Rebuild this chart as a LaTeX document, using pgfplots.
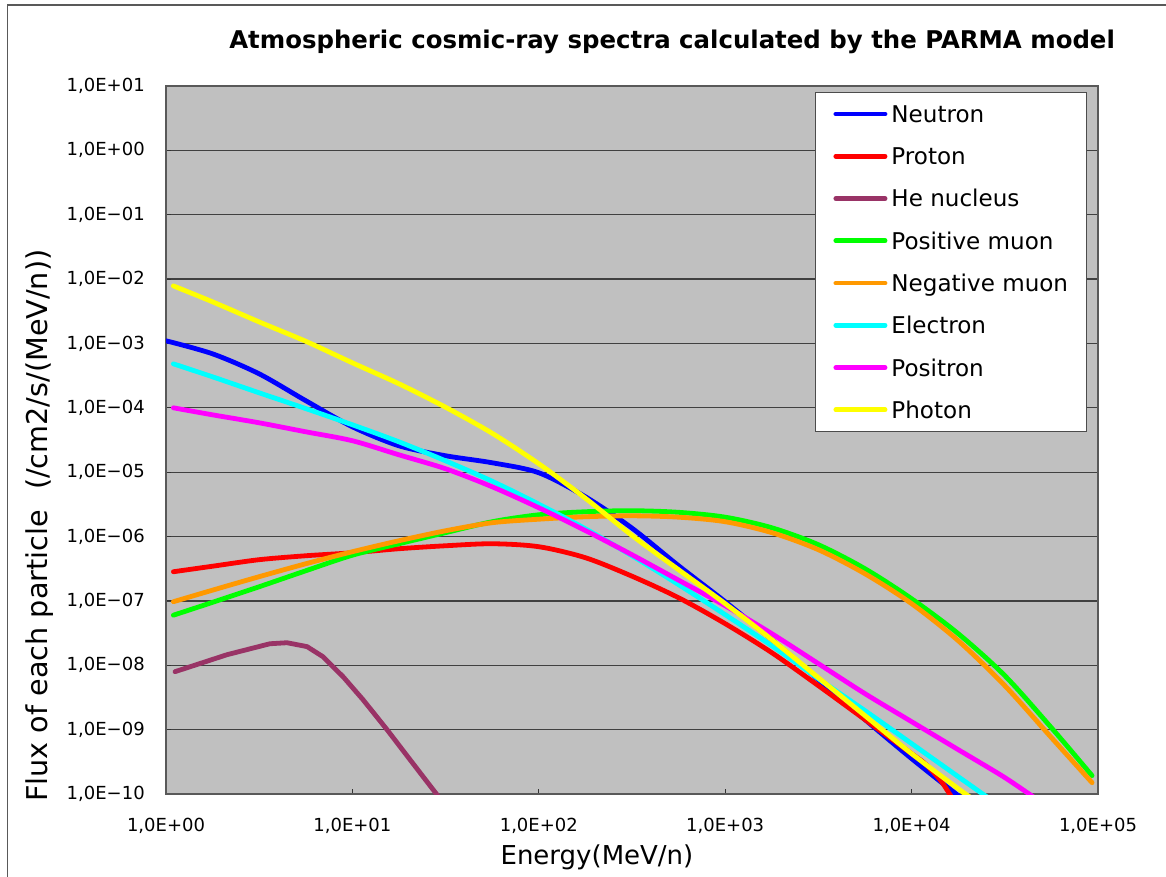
\documentclass[border=0pt]{standalone}
\usepackage{fontspec}
\setmainfont{DejaVu Sans}
\usepackage{pgfplots}
\pgfplotsset{compat=1.18}
\definecolor{bgc}{HTML}{C0C0C0}
\definecolor{cneu}{HTML}{0000FF}
\definecolor{cpro}{HTML}{FF0000}
\definecolor{henuc}{HTML}{993366}
\definecolor{orng}{HTML}{FF9900}
\definecolor{grn}{HTML}{00FF00}
\definecolor{cyn}{HTML}{00FFFF}
\definecolor{mag}{HTML}{FF00FF}
\definecolor{yel}{HTML}{FFFF00}
\begin{document}
\begin{tikzpicture}[x=0.75pt,y=0.75pt]
\useasboundingbox (0,0) rectangle (1166,877);
\fill[white] (0,0) rectangle (1166,877);
\draw[black!65, line width=1.2pt] (7.5,0) -- (7.5,872) -- (1166,872);
\begin{axis}[
  at={(124.5pt,62.25pt)}, anchor=south west,
  scale only axis, width=699pt, height=531pt,
  xmode=log, ymode=log,
  xmin=1, xmax=1e5, ymin=1e-10, ymax=10,
  xminorticks=false, yminorticks=false,
  axis background/.style={fill=bgc},
  axis line style={draw=black!65, line width=1.2pt},
  ymajorgrids, major grid style={black!75, line width=0.9pt},
  tick align=inside, tick pos=left,
  major tick length=3.75pt,
  tick style={black!80, line width=0.8pt},
  xtick={1,10,100,1000,10000,100000},
  xticklabels={{1,0E+00},{1,0E+01},{1,0E+02},{1,0E+03},{1,0E+04},{1,0E+05}},
  ytick={1e-10,1e-9,1e-8,1e-7,1e-6,1e-5,1e-4,1e-3,1e-2,1e-1,1,10},
  yticklabels={{1,0E−10},{1,0E−09},{1,0E−08},{1,0E−07},{1,0E−06},{1,0E−05},{1,0E−04},{1,0E−03},{1,0E−02},{1,0E−01},{1,0E+00},{1,0E+01}},
  yticklabel style={font=\fontsize{13.5}{16}\selectfont, anchor=east, inner sep=0pt, xshift=-15.75pt},
  xticklabel style={font=\fontsize{13.5}{16}\selectfont, anchor=base, inner sep=0pt, yshift=-28pt},
  title={Atmospheric cosmic-ray spectra calculated by the PARMA model},
  title style={at={(axis description cs:0.543,1.051)}, anchor=center, inner sep=0pt, font=\bfseries\fontsize{18.3}{22}\selectfont},
  xlabel={Energy(MeV/n)},
  xlabel style={at={(axis description cs:0.4624,-0.089)}, anchor=center, inner sep=0pt, font=\fontsize{19.5}{23}\selectfont},
  ylabel={Flux of each particle\hspace{0.7em}(/cm2/s/(MeV/n))},
  ylabel style={at={(axis description cs:-0.1352,0.379)}, anchor=center, inner sep=0pt, font=\fontsize{21.5}{25}\selectfont},
  legend style={
    at={(axis description cs:0.6964,0.9915)}, anchor=north west,
    draw=black!70, line width=0.6pt, fill=white,
    font=\fontsize{17.3}{20}\selectfont,
    inner xsep=13.5pt, inner ysep=9.9pt,
    row sep=19.1pt, column sep=3pt,
    nodes={inner sep=0pt, text height=12.6pt, text depth=0pt},
  },
  legend cell align=left,
  legend image code/.code={\draw[#1, line cap=round] (1.8pt,0pt) -- (38.7pt,0pt);},
  every axis plot/.append style={line width=3.6pt, line join=round, line cap=round},
]
\addplot[cneu, smooth] coordinates {(1,1.10e-3) (1.778,6.90e-4) (3.162,3.37e-4) (5.623,1.29e-4) (10,5.07e-5) (17.78,2.57e-5) (31.62,1.80e-5) (56.23,1.40e-5) (100,9.79e-6) (177.8,4.15e-6) (316.2,1.35e-6) (562.3,3.52e-7) (1000,9.72e-8) (1778,2.50e-8) (3162,5.97e-9) (5623,1.43e-9) (10000,3.55e-10) (17783,9.44e-11) (20560,6.84e-11)};
\addlegendentry{Neutron}
\addplot[cpro, smooth] coordinates {(1.096,2.84e-7) (1.778,3.46e-7) (3.162,4.37e-7) (5.623,5.03e-7) (10,5.60e-7) (17.78,6.47e-7) (31.62,7.19e-7) (56.23,7.73e-7) (100,6.95e-7) (177.8,4.69e-7) (316.2,2.42e-7) (562.3,1.12e-7) (1000,4.43e-8) (1778,1.57e-8) (3162,4.82e-9) (5623,1.43e-9) (10000,4.24e-10) (11800,2.96e-10) (14200,1.67e-10) (16070,9.8e-11) (17100,7.35e-11)};
\addlegendentry{Proton}
\addplot[henuc] coordinates {(1.118,7.96e-9) (2.125,1.46e-8) (3.61,2.16e-8) (4.46,2.24e-8) (5.71,1.95e-8) (6.95,1.36e-8) (8.91,6.65e-9) (11.4,2.92e-9) (15.34,1e-9) (20.37,3.42e-10) (28.4,9.8e-11) (31.4,6.6e-11)};
\addlegendentry{He nucleus}
\addplot[grn, smooth] coordinates {(1.096,6.00e-8) (1.778,9.51e-8) (3.162,1.66e-7) (5.623,2.94e-7) (10,5.13e-7) (17.78,7.73e-7) (31.62,1.15e-6) (56.23,1.70e-6) (100,2.18e-6) (177.8,2.43e-6) (316.2,2.52e-6) (562.3,2.38e-6) (1000,2.00e-6) (1778,1.37e-6) (3162,7.46e-7) (5623,3.16e-7) (10000,1.08e-7) (17783,3.10e-8) (31623,6.90e-9) (56234,1.07e-9) (92900,1.93e-10)};
\addlegendentry{Positive muon}
\addplot[orng, smooth] coordinates {(1.096,9.72e-8) (1.778,1.47e-7) (3.162,2.38e-7) (5.623,3.78e-7) (10,5.81e-7) (17.78,8.61e-7) (31.62,1.23e-6) (56.23,1.64e-6) (100,1.86e-6) (177.8,2.03e-6) (316.2,2.10e-6) (562.3,2.00e-6) (1000,1.70e-6) (1778,1.15e-6) (3162,6.24e-7) (5623,2.64e-7) (10000,9.06e-8) (17783,2.41e-8) (31623,4.82e-9) (56234,7.52e-10) (92900,1.50e-10)};
\addlegendentry{Negative muon}
\addplot[cyn, smooth] coordinates {(1.096,4.82e-4) (1.778,3.03e-4) (3.162,1.71e-4) (5.623,9.73e-5) (10,5.45e-5) (17.78,2.96e-5) (31.62,1.50e-5) (56.23,7.23e-6) (100,3.18e-6) (177.8,1.32e-6) (316.2,5.03e-7) (562.3,1.79e-7) (1000,6.11e-8) (1778,2.01e-8) (3162,6.19e-9) (5623,1.97e-9) (10000,6.07e-10) (17783,1.86e-10) (28000,7.35e-11)};
\addlegendentry{Electron}
\addplot[mag, smooth] coordinates {(1.096,1.00e-4) (1.778,7.78e-5) (3.162,5.85e-5) (5.623,4.24e-5) (10,3.08e-5) (17.78,1.86e-5) (31.62,1.13e-5) (56.23,5.93e-6) (100,2.80e-6) (177.8,1.24e-6) (316.2,5.21e-7) (562.3,2.10e-7) (1000,8.41e-8) (1778,3.10e-8) (3162,1.06e-8) (5623,3.62e-9) (10000,1.33e-9) (17783,4.89e-10) (31623,1.80e-10) (48870,7.62e-11)};
\addlegendentry{Positron}
\addplot[yel, smooth] coordinates {(1.096,7.83e-3) (1.778,4.43e-3) (3.162,2.16e-3) (5.623,1.08e-3) (10,5.00e-4) (17.78,2.36e-4) (31.62,1.02e-4) (56.23,4.02e-5) (100,1.35e-5) (177.8,3.94e-6) (316.2,1.04e-6) (562.3,3.05e-7) (1000,9.06e-8) (1778,2.50e-8) (3162,6.41e-9) (5623,1.65e-9) (10000,4.24e-10) (17783,1.21e-10) (21880,7.91e-11)};
\addlegendentry{Photon}
\end{axis}
\end{tikzpicture}
\end{document}
